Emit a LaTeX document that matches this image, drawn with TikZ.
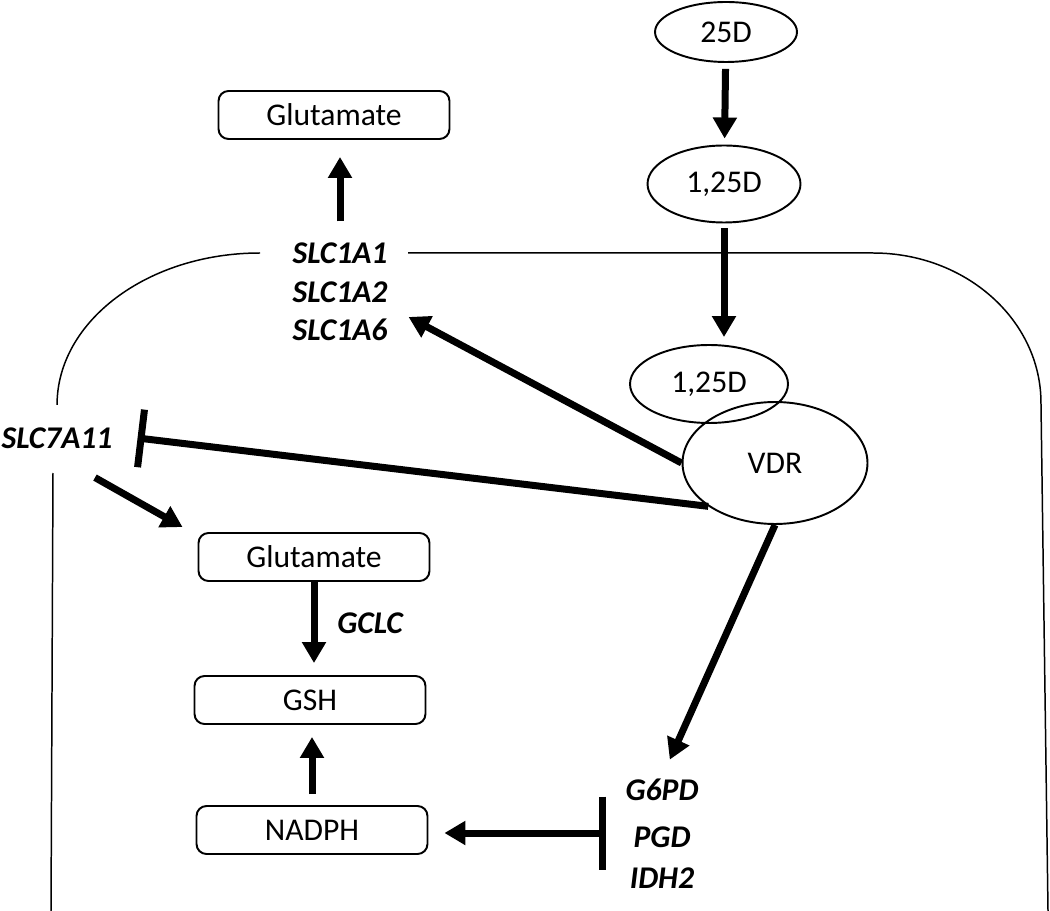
\documentclass[tikz,border=0pt]{standalone}
\usepackage{fontspec}
\setmainfont{Carlito}
\usetikzlibrary{shapes.geometric,arrows.meta}

\begin{document}
\begin{tikzpicture}[x=0.02cm,y=-0.02cm,
  lbl/.style={font=\fontsize{18}{21}\selectfont},
  gene/.style={font=\fontsize{18}{21}\selectfont\bfseries\itshape, inner sep=1pt},
  mol/.style={lbl, draw, ellipse, line width=1.1pt, inner sep=0pt},
  metab/.style={lbl, draw, line width=1.1pt, rounded corners=0.2cm, minimum width=4.62cm, minimum height=0.96cm},
  arr/.style={line width=0.14cm, -{Triangle[length=0.42cm,width=0.46cm]}},
  tee/.style={line width=0.14cm, -{Bar[width=1.16cm]}},
  cell/.style={line width=0.85pt}]
\useasboundingbox (0,0) rectangle (1050,911);

% cell membrane
\draw[cell] (260,253) arc[start angle=90, end angle=180, x radius=4.06cm, y radius=3.04cm];
\draw[cell] (53,473) -- (51,911);
\draw[cell] (408,253) -- (873,253) arc[start angle=90, end angle=0, x radius=3.36cm, y radius=3cm] -- (1048,911);

% vitamin D
\node[mol, minimum width=2.84cm, minimum height=1.2cm] (d25) at (726,32) {25D};
\node[mol, minimum width=3.06cm, minimum height=1.54cm] (d125) at (724,184) {1,25D};
\node[mol, minimum width=3.16cm, minimum height=1.56cm] (d125in) at (709,384) {1,25D};
\node[mol, minimum width=3.7cm, minimum height=2.44cm] (vdr) at (775,463) {VDR};

% metabolites
\node[metab] (gluout) at (334,115) {Glutamate};
\node[metab] (gluin) at (314,557) {Glutamate};
\node[metab] (gsh) at (310,700) {GSH};
\node[metab] (nadph) at (312,830) {NADPH};

% genes
\node[gene] (slc1a1) at (340,253) {SLC1A1};
\node[gene] (slc1a2) at (340,292) {SLC1A2};
\node[gene] (slc1a6) at (340,330) {SLC1A6};
\node[gene] (slc7a11) at (57,438) {SLC7A11};
\node[gene] (gclc) at (370,623) {GCLC};
\node[gene] (g6pd) at (662,790) {G6PD};
\node[gene] (pgd) at (662,837) {PGD};
\node[gene] (idh2) at (662,878) {IDH2};

% arrows
\draw[arr, shorten <=0.12cm, shorten >=0.12cm] (d25) -- (d125);
\draw[arr, shorten <=0.1cm, shorten >=0.14cm] (d125.south) -- (d125.south |- d125in.north);
\draw[arr] (vdr.west) -- ([xshift=0.38cm]slc1a6.north east);
\draw[tee] (vdr.213.5) -- ([xshift=0.46cm]slc7a11.east);
\draw[arr] ([xshift=0.76cm,yshift=-0.54cm]slc7a11.south) -- ([xshift=-0.3cm,yshift=0.1cm]gluin.north west);
\draw[arr, shorten <=0.38cm, shorten >=0.34cm] (slc1a1.north) -- (slc1a1.north |- gluout.south);
\draw[arr, shorten >=0.24cm] (gluin.south) -- (gluin.south |- gsh.north);
\draw[arr, shorten <=0.22cm, shorten >=0.24cm] (nadph.north) -- (nadph.north |- gsh.south);
\draw[arr, shorten >=0.38cm] (vdr.south) -- (g6pd.north);
\draw[line width=0.14cm, {Bar[width=1.46cm]}-{Triangle[length=0.42cm,width=0.46cm]}, shorten >=0.32cm]
  ([xshift=-0.5cm,yshift=0.08cm]pgd.west) -- ([yshift=0.08cm]pgd.west -| nadph.east);
\end{tikzpicture}
\end{document}
